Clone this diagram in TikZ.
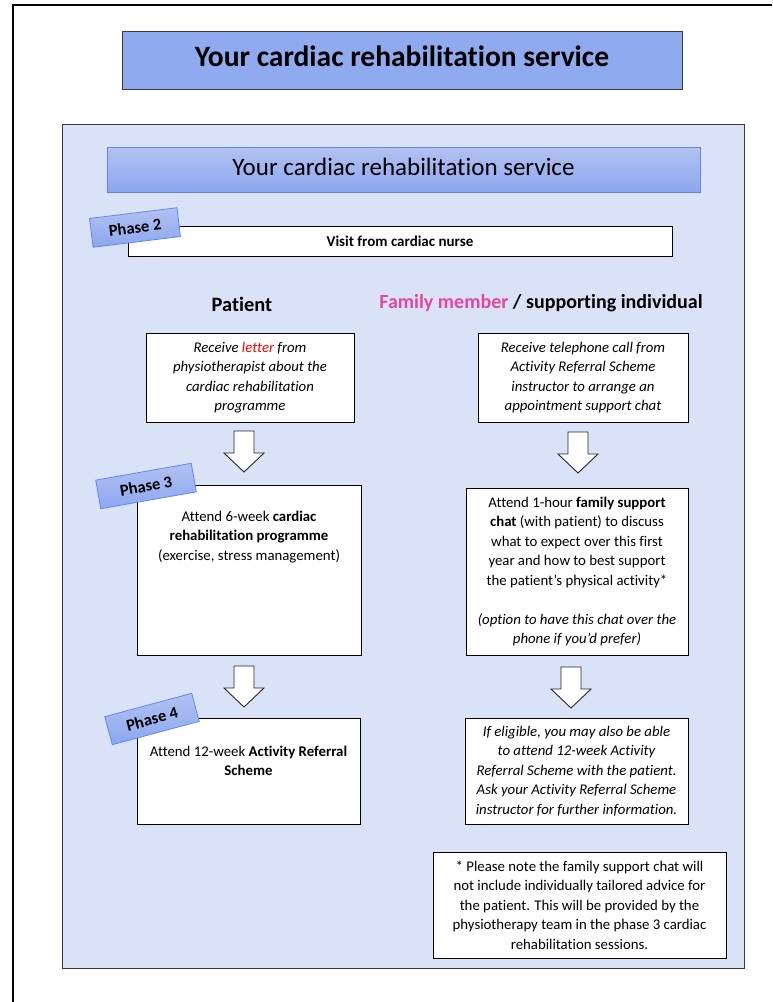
\documentclass[tikz,border=0pt]{standalone}
\usepackage{fontspec}
\setmainfont[Ligatures={NoCommon}]{Carlito}
\definecolor{titleblue}{HTML}{8FAAEE}
\definecolor{panelbg}{HTML}{DAE2F7}
\definecolor{bartop}{HTML}{B3C1F2}
\definecolor{barbot}{HTML}{8CA7EF}
\definecolor{barline}{HTML}{5E88F0}
\definecolor{pinkfam}{HTML}{E4479D}
\definecolor{panelline}{HTML}{3A3A3A}
\tikzset{
  infobox/.style={draw=black, fill=white, line width=0.9pt, inner sep=0pt},
  boxtext/.style={align=center, font=\fontsize{14.8}{19.5}\selectfont, inner sep=0pt},
  phasetag/.style={draw=barline, line width=0.8pt, top color=bartop, bottom color=barbot,
    minimum height=29pt, font=\bfseries\fontsize{16.5}{18}\selectfont, inner sep=0pt},
  hollowarrow/.style={draw=black!85, fill=white, line width=0.9pt, line join=miter},
}
% hollow block arrow pointing down, starting at a named coordinate
\newcommand\downblock[1]{%
  \draw[hollowarrow] (#1) ++(-10,0) -- ++(0,22) -- ++(-10,0) -- ++(20,19) -- ++(20,-19)
    -- ++(-10,0) -- ++(0,-22) -- cycle;}
\begin{document}
\begin{tikzpicture}[x=1pt,y=-1pt]
\useasboundingbox (0,0) rectangle (772,1002);
\clip (0,0) rectangle (772,1002);

% page frame
\draw[line width=2pt] (13,5) rectangle (800,1030);

% main title
\node[draw=panelline, line width=0.9pt, fill=titleblue, minimum width=560pt, minimum height=58pt]
  (title) at (402,60) {};
\node[font=\bfseries\fontsize{29.5}{32}\selectfont, inner sep=0pt] (titletext) at (402,56)
  {Your cardiac rehabilitation service};

% panel
\node[draw=panelline, line width=0.9pt, fill=panelbg, minimum width=682pt, minimum height=844pt,
  inner sep=0pt] (panel) at (403,546) {};

% panel header
\node[draw=barline, line width=0.9pt, top color=bartop, bottom color=barbot,
  minimum width=593pt, minimum height=45pt] (header) at (403.5,169.5) {};
\node[font=\fontsize{25}{28}\selectfont, inner sep=0pt] (headertext) at (403.5,166.5)
  {Your cardiac rehabilitation service};

% phase 2
\node[infobox, minimum width=544pt, minimum height=30pt, font=\bfseries\fontsize{15}{18}\selectfont]
  (visit) at (400,241) {Visit from cardiac nurse};
\node[phasetag, minimum width=88pt, rotate=7] (p2) at (135,227.5) {Phase 2};

% column heads
\node[font=\bfseries\fontsize{20.4}{24}\selectfont, inner sep=0pt] (colpat) at (242,304) {Patient};
\node[font=\bfseries\fontsize{20}{24}\selectfont, inner sep=0pt] (colfam) at (541,303)
  {\textcolor{pinkfam}{Family member} / supporting individual};

% first row
\node[infobox, minimum width=208pt, minimum height=89pt] (l1) at (250,377.5) {};
\node[boxtext, font=\itshape\fontsize{14.8}{19.5}\selectfont] (l1t) at (l1.center)
  {Receive \textcolor{red}{letter} from\\physiotherapist about the\\cardiac rehabilitation\\programme};
\node[infobox, minimum width=210pt, minimum height=89pt] (r1) at (583,377.5) {};
\node[boxtext, font=\itshape\fontsize{14.8}{19.5}\selectfont] (r1t) at (r1.center)
  {Receive telephone call from\\Activity Referral Scheme\\instructor to arrange an\\appointment support chat};

% arrows to second row
\coordinate (a1) at (244,431);
\coordinate (b1) at (578,432);
\downblock{a1}
\downblock{b1}

% second row
\node[infobox, minimum width=224pt, minimum height=170pt] (l2) at (249,570) {};
\node[boxtext, anchor=north] (l2t) at ([yshift=-26pt]l2.north)
  {Attend 6-week \textbf{cardiac}\\\textbf{rehabilitation programme}\\(exercise, stress management)};
\node[infobox, minimum width=222pt, minimum height=167pt] (r2) at (577,571.5) {};
\node[boxtext] (r2t) at (r2.center)
  {Attend 1-hour \textbf{family support}\\\textbf{chat} (with patient) to discuss\\what to expect over this first\\year and how to best support\\the patient’s physical activity*\\[19.5pt]\textit{(option to have this chat over the}\\\textit{phone if you’d prefer)}};
\node[phasetag, minimum width=97pt, rotate=10] (p3) at (146,486) {Phase 3};

% arrows to third row
\coordinate (a2) at (244,666);
\coordinate (b2) at (571,667);
\downblock{a2}
\downblock{b2}

% third row
\node[infobox, minimum width=223pt, minimum height=106pt] (l3) at (248.5,771) {};
\node[boxtext, anchor=north] (l3t) at ([yshift=-28pt]l3.north)
  {Attend 12-week \textbf{Activity Referral}\\\textbf{Scheme}};
\node[infobox, minimum width=223pt, minimum height=106pt] (r3) at (576.5,771) {};
\node[boxtext, font=\itshape\fontsize{14.8}{19.5}\selectfont] (r3t) at (r3.center)
  {If eligible, you may also be able\\to attend 12-week Activity\\Referral Scheme with the patient.\\Ask your Activity Referral Scheme\\instructor for further information.};
\node[phasetag, minimum width=90pt, rotate=15] (p4) at (152,719) {Phase 4};

% footnote
\node[infobox, minimum width=293pt, minimum height=106pt] (note) at (579.5,905) {};
\node[boxtext] (notet) at (note.center)
  {* Please note the family support chat will\\not include individually tailored advice for\\the patient. This will be provided by the\\physiotherapy team in the phase 3 cardiac\\rehabilitation sessions.};
\end{tikzpicture}
\end{document}
